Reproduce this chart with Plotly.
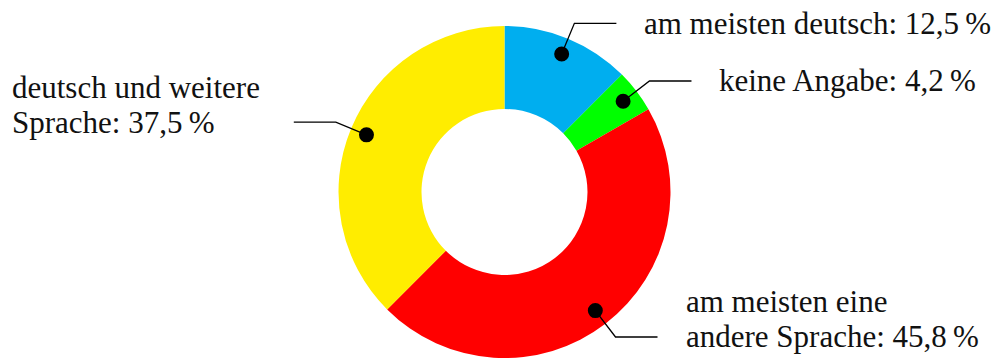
import numpy as np
import plotly.graph_objects as go

# Survey answers: share of respondents per answer (in %)
categories = [
    "am meisten deutsch",
    "keine Angabe",
    "am meisten eine\nandere Sprache",
    "deutsch und weitere\nSprache",
]
shares = [12.5, 4.2, 45.8, 37.5]

# Styling
slice_colors = ["#00AEEF", "#00FF00", "#FF0000", "#FFED00"]
FONT = dict(family="Liberation Serif, Times New Roman, serif", size=31, color="#111111")
W, H = 1001, 358
CX, CY, R = 504.5, 192.0, 166.0      # donut centre / outer radius in px
DOT_R, ELBOW_R = 0.9, 1.1            # radii in units of the outer radius
ARM, GAP = 42 / R, 26 / R            # horizontal leader length, text gap
LINE_H = 35 / R                      # text line height
LEFT_PAD = 10                        # px, left edge of labels on the left side


def fmt(v):
    return f"{v:.1f}".replace(".", ",") + "\u2009%"


fig = go.Figure()

fig.add_trace(go.Pie(
    values=shares,
    labels=[c.replace("\n", " ") for c in categories],
    sort=False,
    direction="clockwise",
    rotation=0,
    hole=0.5,
    textinfo="none",
    hoverinfo="skip",
    showlegend=False,
    marker=dict(colors=slice_colors, line=dict(width=0)),
    domain=dict(x=[(CX - R) / W, (CX + R) / W], y=[0, 2 * R / H]),
))

# Leader lines, dots and labels placed on an overlay axis centred on the donut
total = sum(shares)
cum = np.cumsum([0] + shares)
shapes, annotations = [], []
for i, (cat, v) in enumerate(zip(categories, shares)):
    theta = 2 * np.pi * (cum[i] + v / 2) / total   # clockwise from 12 o'clock
    sx, sy = np.sin(theta), np.cos(theta)
    dx, dy = DOT_R * sx, DOT_R * sy
    ex, ey = ELBOW_R * sx, ELBOW_R * sy
    side = 1 if sx >= 0 else -1
    hx = ex + side * ARM
    shapes.append(dict(type="path", xref="x", yref="y", layer="above",
                       path=f"M{dx},{dy} L{ex},{ey} L{hx},{ey}",
                       line=dict(color="black", width=1.3)))
    shapes.append(dict(type="circle", xref="x", yref="y", layer="above",
                       xsizemode="pixel", ysizemode="pixel",
                       xanchor=dx, yanchor=dy, x0=-7.5, x1=7.5, y0=-7.5, y1=7.5,
                       fillcolor="black", line=dict(width=0)))
    lines = cat.split("\n")
    lines[-1] = lines[-1] + ": " + fmt(v)
    n = len(lines)
    # the last line sits on the leader, earlier lines stack above it
    for k, txt in enumerate(lines):
        y = ey + (n - 1 - k) * LINE_H
        if side > 0:
            pos = dict(xref="x", x=hx + GAP, xshift=0)
        else:
            pos = dict(xref="paper", x=0, xshift=LEFT_PAD)
        annotations.append(dict(
            yref="y", y=y, text=txt, showarrow=False,
            xanchor="left", yanchor="middle", font=FONT, **pos,
        ))

fig.update_layout(
    width=W, height=H,
    margin=dict(l=0, r=0, t=0, b=0),
    paper_bgcolor="white", plot_bgcolor="rgba(0,0,0,0)",
    xaxis=dict(range=[-CX / R, (W - CX) / R], visible=False, fixedrange=True),
    yaxis=dict(range=[-(H - CY) / R, CY / R], visible=False, fixedrange=True),
    shapes=shapes, annotations=annotations,
    showlegend=False,
)

fig.write_html("out.html")
